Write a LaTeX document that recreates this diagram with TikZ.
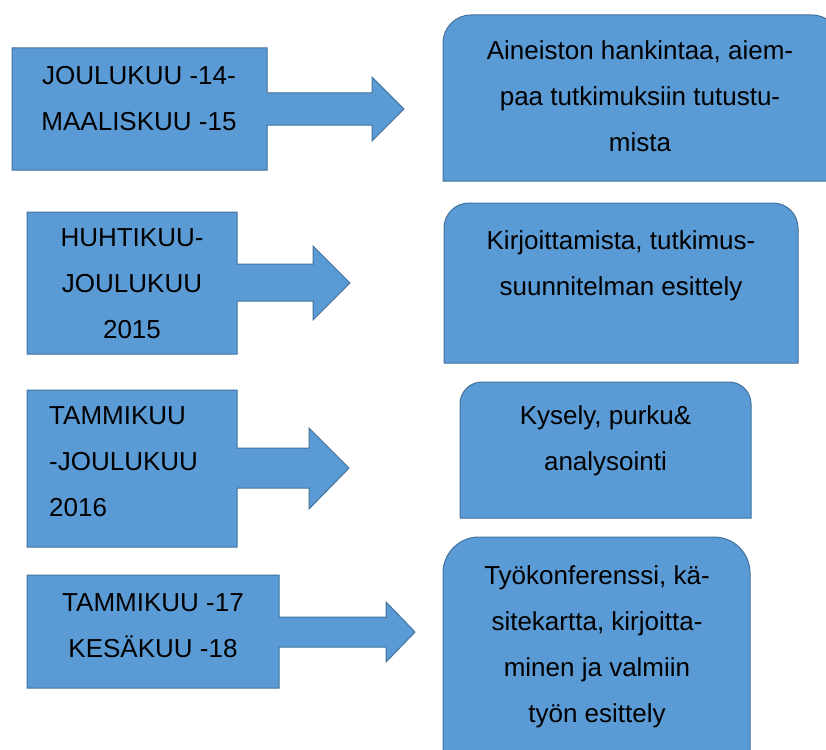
\documentclass[tikz,border=0pt]{standalone}
\usepackage{fontspec}
\setmainfont{Liberation Sans}
\definecolor{boxblue}{RGB}{91,155,213}
\definecolor{boxedge}{RGB}{65,113,156}

\begin{document}
\begin{tikzpicture}[
		x=1pt, y=-1pt,
		callbox/.style={fill=boxblue, draw=boxedge, line width=1pt, line join=miter},
		taskbox/.style={fill=boxblue, draw=boxedge, line width=1pt},
		datetext/.style={font=\fontsize{26}{46}\selectfont, align=center, inner sep=0pt},
		tasktext/.style={font=\fontsize{26}{46}\selectfont, align=center, inner sep=0pt}
		]
		\useasboundingbox (0,0) rectangle (826,749);
		\clip (0,0) rectangle (826,749);
		% aikavalit (nuolilaatikot)
		\path[callbox] (12,48) -- (267,48) -- (267,93) -- (372,93) -- (372,77) -- (404,109) -- (372,141) -- (372,125) -- (267,125) -- (267,170) -- (12,170) -- cycle;
		\path[callbox] (27,212) -- (237,212) -- (237,264) -- (313,264) -- (313,246) -- (350,283) -- (313,320) -- (313,301) -- (237,301) -- (237,354) -- (27,354) -- cycle;
		\path[callbox] (27,390) -- (237,390) -- (237,448) -- (309,448) -- (309,428) -- (349,468) -- (309,509) -- (309,488) -- (237,488) -- (237,547) -- (27,547) -- cycle;
		\path[callbox] (27,575) -- (279,575) -- (279,617) -- (386,617) -- (386,602) -- (415,632) -- (386,662) -- (386,647) -- (279,647) -- (279,688) -- (27,688) -- cycle;
		% tehtavat
		\path[taskbox] (443,98) [rounded corners=28] -- (443,15) -- (840,15) -- (840,98) [sharp corners] -- (840,181) -- (443,181) -- cycle;
		\path[taskbox] (444,283) [rounded corners=25] -- (444,203) -- (798,203) -- (798,283) [sharp corners] -- (798,363) -- (444,363) -- cycle;
		\path[taskbox] (460,450) [rounded corners=22] -- (460,382) -- (751,382) -- (751,450) [sharp corners] -- (751,518) -- (460,518) -- cycle;
		\path[taskbox] (443,650) [rounded corners=36] -- (443,537) -- (750,537) -- (750,650) [sharp corners] -- (750,770) -- (443,770) -- cycle;
		% tekstit
		\node[datetext] (period1) at (139,98.3) {JOULUKUU -14-\\MAALISKUU -15};
		\node[datetext] (period2) at (132,283.9) {HUHTIKUU-\\JOULUKUU\\2015};
		\node[datetext, align=left, anchor=west] (period3) at (49,461.7) {TAMMIKUU\\-JOULUKUU\\2016};
		\node[datetext] (period4) at (153,625.2) {TAMMIKUU -17\\KES\"AKUU -18};
		\node[tasktext] (task1) at (640,96.6) {Aineiston hankintaa, aiem-\\paa tutkimuksiin tutustu-\\mista};
		\node[tasktext] (task2) at (621,266.2) {Kirjoittamista, tutkimus-\\suunnitelman esittely};
		\node[tasktext] (task3) at (605.5,441.2) {Kysely, purku\&\\analysointi};
		\node[tasktext] (task4) at (597,646.7) {Työkonferenssi, kä-\\sitekartta, kirjoitta-\\minen ja valmiin\\työn esittely};
	\end{tikzpicture}
\end{document}
